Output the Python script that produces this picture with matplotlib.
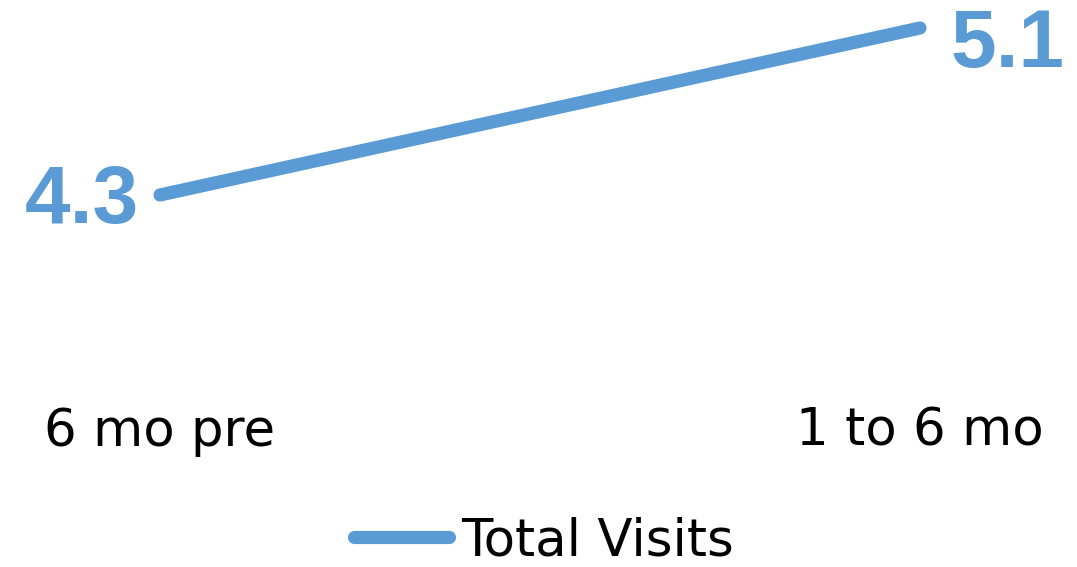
import matplotlib
matplotlib.use("Agg")
import matplotlib.pyplot as plt
from matplotlib.lines import Line2D
from matplotlib.transforms import offset_copy

periods = ["6 mo pre", "1 to 6 mo"]
total_visits = [4.3, 5.1]
series_name = "Total Visits"

blue = "#5B9BD5"
W, H = 1077, 567
fig = plt.figure(figsize=(W / 100, H / 100), dpi=100)
ax = fig.add_axes([0, 0, 1, 1])
ax.set_axis_off()

x = list(range(len(periods)))
ax.plot(x, total_visits, color=blue, lw=9.5, solid_capstyle="round")

# data -> pixel layout: x=0 at 160px, x=1 at 920px; 208.75 px per unit in y
ax.set_xlim(-160 / 760, (W - 160) / 760)
ax.set_ylim(4.3 - 372 / 208.75, 4.3 + 195 / 208.75)

value_font = dict(color=blue, fontsize=59, fontweight="bold", family="Liberation Sans")
# value labels sit beside the line ends (offsets in points)
t0 = offset_copy(ax.transData, fig=fig, x=-15, y=-20, units="points")
ax.text(x[0], total_visits[0], f"{total_visits[0]:.1f}", ha="right", va="baseline",
        transform=t0, **value_font)
t1 = offset_copy(ax.transData, fig=fig, x=22, y=-28, units="points")
ax.text(x[1], total_visits[1], f"{total_visits[1]:.1f}", ha="left", va="baseline",
        transform=t1, **value_font)

label_font = "DejaVu Sans"
for xi, lab in zip(x, periods):
    ax.text(xi, 2.518 + (567 - 432) / 208.75, lab, ha="center", va="center",
            color="black", family=label_font, fontsize=37)

handle = Line2D([], [], color=blue, lw=9.5, solid_capstyle="round")
fig.legend([handle], [series_name], loc="center", bbox_to_anchor=(0.505, 1 - 541 / H),
           frameon=False, handlelength=1.85, handletextpad=0.22, borderpad=0.1,
           prop={"family": label_font, "size": 37})

fig.savefig("out.png", dpi=100, facecolor="white")
